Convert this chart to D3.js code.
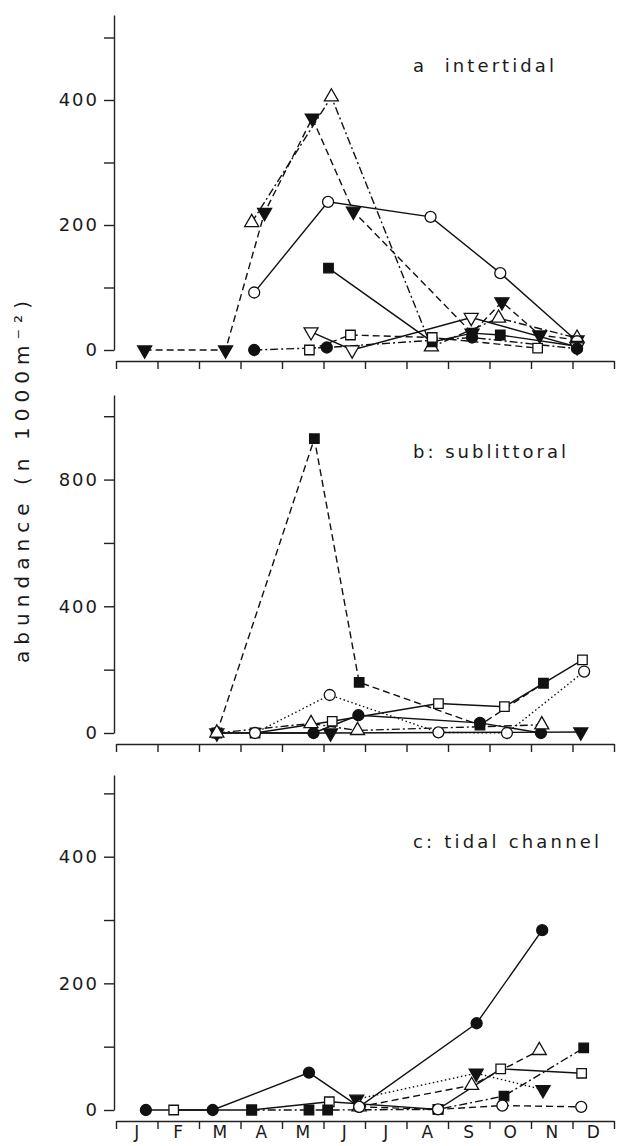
<!DOCTYPE html>
<html>
<head>
<meta charset="utf-8">
<script src="https://cdnjs.cloudflare.com/ajax/libs/d3/7.8.5/d3.min.js"></script>
<style>
  body { margin: 0; background: #fff; }
  text { font-family: "DejaVu Sans", sans-serif; fill: #1a1a1a; }
</style>
</head>
<body>
<div id="chart"></div>
<script>
var months = ["J", "F", "M", "A", "M", "J", "J", "A", "S", "O", "N", "D"];

// positions are in months from 1 Jan (0 = start of J, 12 = end of D)
// a: intertidal
var aFilledDown = [[0.69, 0], [2.64, 0], [3.58, 220], [4.73, 371], [5.72, 222], [8.58, 27], [9.3, 77], [10.21, 24], [11.11, 16]];
var aOpenUp = [[3.27, 204], [5.19, 405], [7.6, 5], [9.22, 51], [11.11, 19]];
var aOpenCircle = [[3.33, 92], [5.11, 237], [7.58, 213], [9.26, 123], [11.11, 14]];
var aFilledSquare = [[5.12, 131], [7.62, 13], [8.58, 27], [9.26, 24], [11.11, 6]];
var aOpenDown = [[4.7, 29], [5.69, 0], [8.56, 52], [11.11, 5]];
var aOpenSquare = [[4.66, 0], [5.65, 24], [7.62, 20], [10.16, 3]];
var aFilledCircle = [[3.33, 0], [5.08, 4], [8.58, 20], [11.11, 2]];

// b: sublittoral
var bFilledSquare = [[2.43, 0], [4.78, 929], [5.86, 160], [8.77, 25], [10.3, 157]];
var bOpenSquare = [[3.35, 0], [5.21, 37], [7.77, 93], [9.36, 83], [11.24, 231]];
var bOpenCircle = [[3.35, 0], [5.15, 120], [7.77, 2], [9.42, 0], [11.28, 194]];
var bFilledCircle = [[2.43, 0], [4.76, 0], [5.84, 56], [8.77, 32], [10.24, 0]];
var bFilledDown = [[2.43, 0], [5.17, 0], [11.2, 3]];
var bOpenUp = [[2.43, 0], [4.7, 30], [5.82, 8], [10.26, 26]];

// c: tidal channel
var cFilledCircle = [[0.72, 0], [2.33, 0], [4.65, 59], [5.86, 5], [8.69, 137], [10.27, 284]];
var cOpenSquare = [[1.39, 0], [3.27, 0], [5.14, 13], [7.76, 1], [9.27, 65], [11.22, 58]];
var cFilledSquare = [[3.27, 0], [4.65, 0], [5.1, 0], [7.76, 1], [9.35, 22], [11.27, 98]];
var cFilledDown = [[5.8, 17], [8.68, 58], [10.29, 32]];
var cOpenUp = [[5.86, 5], [8.57, 39], [10.2, 94]];
var cOpenCircle = [[5.86, 5], [7.76, 1], [9.31, 7], [11.21, 5]];

var aTicks = [0, 100, 200, 300, 400, 500], aLabels = [0, 200, 400];
var bTicks = [0, 200, 400, 600, 800, 1000], bLabels = [0, 400, 800];
var cTicks = [0, 100, 200, 300, 400, 500], cLabels = [0, 200, 400];

var width = 629, height = 1146;
var dashes = { solid: null, dashed: "7,4", dashdot: "8,3,2,3", dotted: "1.5,2.6" };

var panels = [
  { title: "a  intertidal", titleX: 413, titleY: 72, titleLen: 141,
    top: 15, zero: 350, max: 536, ticks: aTicks, labels: aLabels,
    series: [
      { data: aFilledDown, marker: "downFilled", line: "dashed" },
      { data: aOpenUp, marker: "upOpen", line: "dashdot" },
      { data: aOpenCircle, marker: "circleOpen", line: "solid" },
      { data: aFilledSquare, marker: "squareFilled", line: "solid" },
      { data: aOpenDown, marker: "downOpen", line: "solid" },
      { data: aOpenSquare, marker: "squareOpen", line: "dashed" },
      { data: aFilledCircle, marker: "circleFilled", line: "dashdot" }
    ] },
  { title: "b: sublittoral", titleX: 413, titleY: 458, titleLen: 153,
    top: 395, zero: 733, max: 1067, ticks: bTicks, labels: bLabels,
    series: [
      { data: bFilledSquare, marker: "squareFilled", line: "dashed" },
      { data: bOpenSquare, marker: "squareOpen", line: "solid" },
      { data: bOpenCircle, marker: "circleOpen", line: "dotted" },
      { data: bFilledCircle, marker: "circleFilled", line: "solid" },
      { data: bFilledDown, marker: "downFilled", line: "solid" },
      { data: bOpenUp, marker: "upOpen", line: "dashdot" }
    ] },
  { title: "c: tidal channel", titleX: 413, titleY: 848, titleLen: 186,
    top: 775, zero: 1110, max: 529, ticks: cTicks, labels: cLabels,
    series: [
      { data: cFilledCircle, marker: "circleFilled", line: "solid" },
      { data: cOpenSquare, marker: "squareOpen", line: "solid" },
      { data: cFilledSquare, marker: "squareFilled", line: "dashdot" },
      { data: cFilledDown, marker: "downFilled", line: "dotted" },
      { data: cOpenUp, marker: "upOpen", line: "dashed" },
      { data: cOpenCircle, marker: "circleOpen", line: "dashed" }
    ] }
];

var svg = d3
  .select("#chart")
  .append("svg")
  .attr("width", width)
  .attr("height", height);

var x = d3.scaleLinear().domain([0, 12]).range([116, 614]);

function markerPath(kind) {
  if (kind.indexOf("circle") === 0) return d3.symbol().type(d3.symbolCircle).size(95)();
  if (kind.indexOf("square") === 0) return d3.symbol().type(d3.symbolSquare).size(90)();
  return d3.symbol().type(d3.symbolTriangle).size(85)();
}

panels.forEach(function (p, pi) {
  var y = d3.scaleLinear().domain([0, p.max]).range([p.zero, p.top]);
  var g = svg.append("g");

  // y axis
  var yAxis = g
    .append("g")
    .attr("transform", "translate(114,0)")
    .call(
      d3.axisLeft(y)
        .tickValues(p.ticks)
        .tickSize(10)
        .tickSizeOuter(0)
        .tickPadding(5)
        .tickFormat(function (d) { return p.labels.indexOf(d) >= 0 ? d : ""; })
    );
  yAxis.selectAll("text")
    .attr("font-family", "DejaVu Sans, sans-serif")
    .attr("font-size", 18)
    .attr("letter-spacing", "2px")
    .style("fill", "#1a1a1a");
  yAxis.selectAll("line, path").attr("stroke", "#222").attr("stroke-width", 1.4);

  // x axis
  var xAxis = g
    .append("g")
    .attr("transform", "translate(0," + (p.zero + 11) + ")")
    .call(d3.axisBottom(x).tickValues(d3.range(0, 13)).tickSize(8).tickSizeOuter(0).tickFormat(""));
  xAxis.selectAll("line, path").attr("stroke", "#222").attr("stroke-width", 1.4);

  if (pi === 2) {
    var band = d3.scaleBand().domain(d3.range(12)).range([116, 614]);
    var mAxis = g
      .append("g")
      .attr("transform", "translate(0," + (p.zero + 11) + ")")
      .call(d3.axisBottom(band).tickSize(0).tickPadding(5).tickFormat(function (i) { return months[i]; }));
    mAxis.select(".domain").remove();
    mAxis.selectAll("text")
      .attr("font-family", "DejaVu Sans, sans-serif")
      .attr("font-size", 17)
      .style("fill", "#1a1a1a");
  }

  // title
  g.append("text")
    .attr("x", p.titleX)
    .attr("y", p.titleY)
    .attr("font-size", 18)
    .attr("textLength", p.titleLen)
    .attr("lengthAdjust", "spacing")
    .style("white-space", "pre")
    .text(p.title);

  var line = d3.line()
    .x(function (d) { return x(d[0]); })
    .y(function (d) { return y(d[1]); });

  // lines first, then markers on top
  p.series.forEach(function (s) {
    g.append("path")
      .datum(s.data)
      .attr("d", line)
      .attr("fill", "none")
      .attr("stroke", "#111")
      .attr("stroke-width", 1.4)
      .attr("stroke-dasharray", dashes[s.line]);
  });

  p.series.forEach(function (s) {
    var filled = s.marker.indexOf("Filled") > 0;
    var down = s.marker.indexOf("down") === 0;
    g.selectAll(null)
      .data(s.data)
      .enter()
      .append("path")
      .attr("d", markerPath(s.marker))
      .attr("transform", function (d) {
        return "translate(" + x(d[0]) + "," + y(d[1]) + ")" + (down ? " rotate(180)" : "");
      })
      .attr("fill", filled ? "#111" : "#fff")
      .attr("stroke", "#111")
      .attr("stroke-width", 1.3);
  });
});

// shared y title
svg.append("text")
  .attr("transform", "translate(29,482) rotate(-90)")
  .attr("text-anchor", "middle")
  .attr("font-size", 20)
  .attr("textLength", 362)
  .attr("lengthAdjust", "spacing")
  .text("abundance (n 1000m\u207B\u00B2)");
</script>
</body>
</html>
